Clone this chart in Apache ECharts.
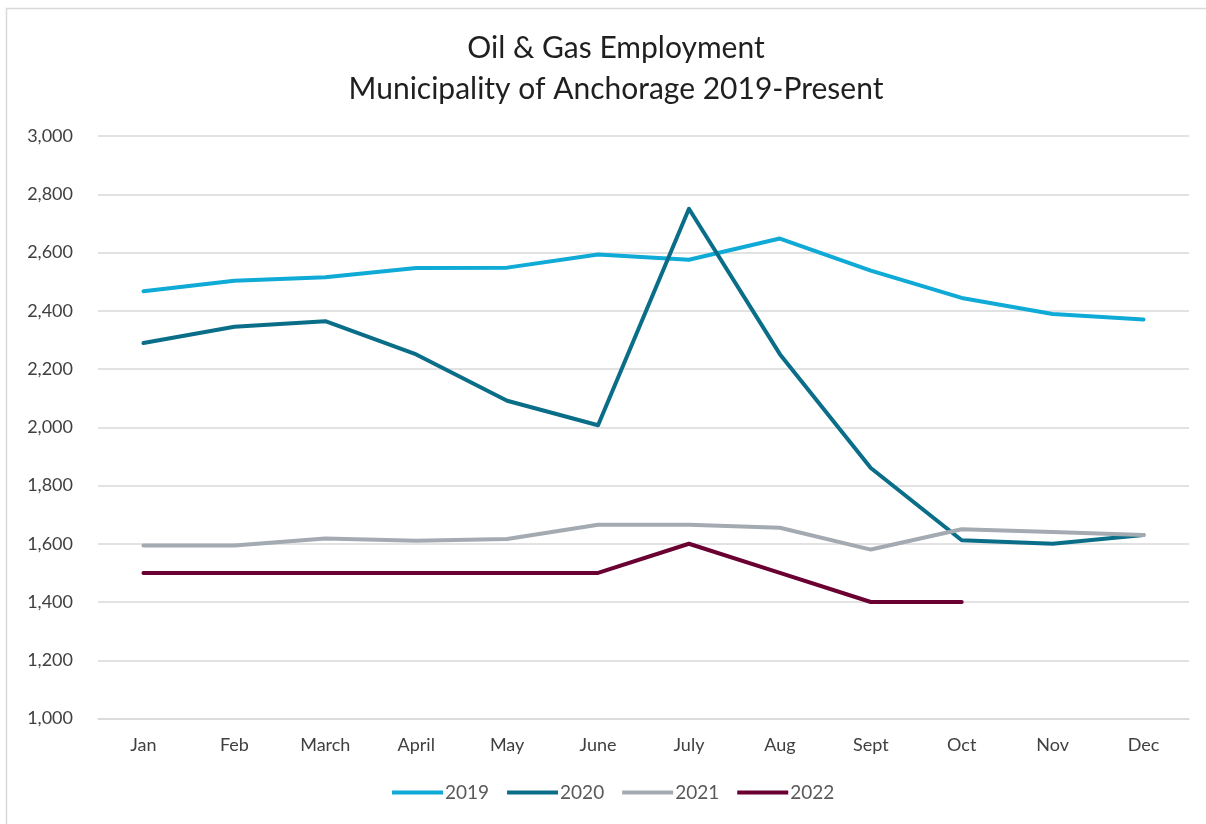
<!DOCTYPE html>
<html>
<head>
<meta charset="utf-8">
<script src="https://cdn.jsdelivr.net/npm/echarts@6/dist/echarts.min.js"></script>
<style>
html,body{margin:0;padding:0;background:#fff;}
#chart{width:1206px;height:824px;}
</style>
</head>
<body>
<div id="chart"></div>
<script>
const months = ['Jan','Feb','March','April','May','June','July','Aug','Sept','Oct','Nov','Dec'];
const yTicks = [1000, 1200, 1400, 1600, 1800, 2000, 2200, 2400, 2600, 2800, 3000];
const s2019 = [2467, 2503, 2515, 2547, 2548, 2593, 2575, 2648, 2538, 2444, 2389, 2370];
const s2020 = [2289, 2345, 2364, 2250, 2091, 2007, 2750, 2251, 1860, 1612, 1600, 1630];
const s2021 = [1594, 1594, 1618, 1610, 1616, 1665, 1665, 1655, 1580, 1650, 1640, 1630];
const s2022 = [1500, 1500, 1500, 1500, 1500, 1500, 1600, 1500, 1400, 1400];
const seriesNames = ['2019','2020','2021','2022'];
const colors = ['#0FAAD6', '#0A6E88', '#A3AAB1', '#6A0032'];

const FONT = 'Lato, "Open Sans", sans-serif';
const chart = echarts.init(document.getElementById('chart'), null, {renderer:'canvas'});
const seriesData = [s2019, s2020, s2021, s2022];
chart.setOption({
  animation: false,
  backgroundColor: '#fff',
  color: colors,
  title: {
    text: 'Oil & Gas Employment\nMunicipality of Anchorage 2019-Present',
    left: 611, top: 23, textAlign: 'center',
    textStyle: {fontFamily: FONT, fontSize: 30, fontWeight: 'normal', color: '#1f1f1f', lineHeight: 41}
  },
  legend: {
    data: seriesNames,
    bottom: 17, left: 387,
    icon: 'rect', itemWidth: 51, itemHeight: 4, itemGap: 18,
    textStyle: {fontFamily: FONT, fontSize: 19, color: '#595959', padding: [0,0,0,-3]}
  },
  grid: {left: 98, right: 17, top: 136, bottom: 105.5, containLabel: false},
  xAxis: {
    type: 'category', data: months, boundaryGap: true,
    axisLine: {show: true, lineStyle: {color: '#d9d9d9', width: 1.5}},
    axisTick: {show: false},
    axisLabel: {fontFamily: FONT, fontSize: 18, color: '#404040', margin: 18}
  },
  yAxis: {
    type: 'value', min: yTicks[0], max: yTicks[yTicks.length-1], interval: 200,
    axisLine: {show: false}, axisTick: {show: false},
    splitLine: {lineStyle: {color: '#d9d9d9', width: 1.5}},
    axisLabel: {fontFamily: FONT, fontSize: 18, color: '#404040', margin: 25,
      formatter: v => v.toLocaleString('en-US')}
  },
  series: seriesNames.map((n, i) => ({
    name: n, type: 'line', data: seriesData[i], showSymbol: false, symbol: 'none',
    lineStyle: {width: 4, color: colors[i], cap: 'round', join: 'round'},
    itemStyle: {color: colors[i]}
  })),
  graphic: [{
    type: 'rect', silent: true,
    shape: {x: 6.5, y: 8.5, width: 1400, height: 1000},
    style: {fill: 'none', stroke: '#d9d9d9', lineWidth: 1.5}
  }]
});
</script>
</body>
</html>
